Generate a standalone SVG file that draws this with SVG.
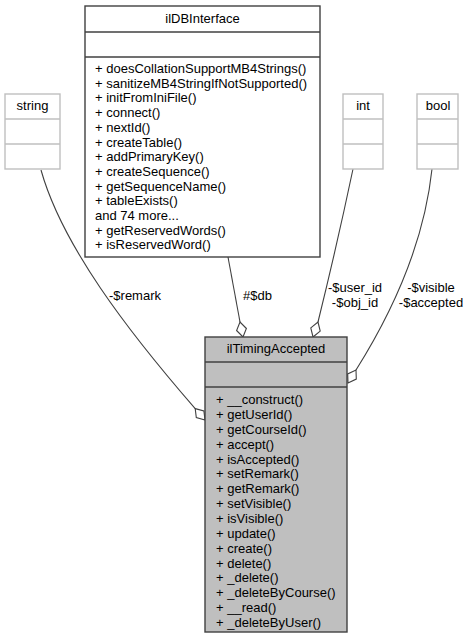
<svg xmlns="http://www.w3.org/2000/svg" width="469" height="639" viewBox="0 0 469 639">
<style>
text{font-family:"Liberation Sans",Arial,sans-serif;font-size:13px;fill:#000}
.t{text-anchor:middle}
.m{text-anchor:middle}
.box{fill:#fff;stroke:#404040;stroke-width:1.4}
.cur{fill:#bfbfbf;stroke:#404040;stroke-width:1.4}
.gbox{fill:#fff;stroke:#bfbfbf;stroke-width:1.4}
.sep{stroke:#404040;stroke-width:1.4}
.gsep{stroke:#bfbfbf;stroke-width:1.4}
.edge{fill:none;stroke:#404040;stroke-width:1.1}
.dia{fill:#fff;stroke:#404040;stroke-width:1.1}
</style>
<rect width="469" height="639" fill="#fff"/>
<g id="connectors">
<g id="e-db">
<path class="edge" d="M228,257 L240,322"/>
<polygon class="dia" points="243,337 246.4,328.5 240,322 236.6,330.5"/>
<text x="243" y="300">#$db</text>
</g>
<g id="e-int">
<path class="edge" d="M353,169 Q337,245 318,322"/>
<polygon class="dia" points="313,337 320.2,331.1 318,322 310.8,327.9"/>
<text class="m" x="355" y="292">-$user_id</text>
<text class="m" x="355" y="307">-$obj_id</text>
</g>
<g id="e-bool">
<path class="edge" d="M432,169 C425,235 400,300 356,370"/>
<polygon class="dia" points="348,383 356.3,379.1 356,370 347.7,373.9"/>
<text class="m" x="431" y="292">-$visible</text>
<text class="m" x="431" y="307">-$accepted</text>
</g>
<g id="e-string">
<path class="edge" d="M41,170 C62,245 127,330 195.2,408.6"/>
<polygon class="dia" points="205,420 203.9,411 195.2,408.6 196.3,417.6"/>
<text x="109" y="300">-$remark</text>
</g>
</g>
<g id="node-string">
<rect class="gbox" x="5" y="94" width="55" height="75"/>
<line class="gsep" x1="5" y1="119" x2="60" y2="119"/>
<line class="gsep" x1="5" y1="144" x2="60" y2="144"/>
<text class="t" x="32.5" y="110">string</text>
</g>
<g id="node-int">
<rect class="gbox" x="343" y="94" width="40" height="75"/>
<line class="gsep" x1="343" y1="119" x2="383" y2="119"/>
<line class="gsep" x1="343" y1="144" x2="383" y2="144"/>
<text class="t" x="363" y="110">int</text>
</g>
<g id="node-bool">
<rect class="gbox" x="417" y="94" width="41" height="75"/>
<line class="gsep" x1="417" y1="119" x2="458" y2="119"/>
<line class="gsep" x1="417" y1="144" x2="458" y2="144"/>
<text class="t" x="438" y="110">bool</text>
</g>
<g id="node-ilDBInterface">
<rect class="box" x="85" y="6" width="235" height="251"/>
<line class="sep" x1="85" y1="32" x2="320" y2="32"/>
<line class="sep" x1="85" y1="57" x2="320" y2="57"/>
<text class="t" x="202.5" y="23">ilDBInterface</text>
<text x="95" y="73">+ doesCollationSupportMB4Strings()</text>
<text x="95" y="87.7">+ sanitizeMB4StringIfNotSupported()</text>
<text x="95" y="102.4">+ initFromIniFile()</text>
<text x="95" y="117.1">+ connect()</text>
<text x="95" y="131.8">+ nextId()</text>
<text x="95" y="146.5">+ createTable()</text>
<text x="95" y="161.2">+ addPrimaryKey()</text>
<text x="95" y="175.9">+ createSequence()</text>
<text x="95" y="190.6">+ getSequenceName()</text>
<text x="95" y="205.3">+ tableExists()</text>
<text x="95" y="220">and 74 more...</text>
<text x="95" y="234.7">+ getReservedWords()</text>
<text x="95" y="249.4">+ isReservedWord()</text>
</g>
<g id="node-ilTimingAccepted">
<rect class="cur" x="205" y="337" width="142" height="295"/>
<line class="sep" x1="205" y1="362" x2="347" y2="362"/>
<line class="sep" x1="205" y1="387" x2="347" y2="387"/>
<text class="t" x="276" y="353">ilTimingAccepted</text>
<text x="216" y="404">+ __construct()</text>
<text x="216" y="418.9">+ getUserId()</text>
<text x="216" y="433.7">+ getCourseId()</text>
<text x="216" y="448.6">+ accept()</text>
<text x="216" y="463.5">+ isAccepted()</text>
<text x="216" y="478.3">+ setRemark()</text>
<text x="216" y="493.2">+ getRemark()</text>
<text x="216" y="508.1">+ setVisible()</text>
<text x="216" y="523">+ isVisible()</text>
<text x="216" y="537.8">+ update()</text>
<text x="216" y="552.7">+ create()</text>
<text x="216" y="567.6">+ delete()</text>
<text x="216" y="582.4">+ _delete()</text>
<text x="216" y="597.3">+ _deleteByCourse()</text>
<text x="216" y="612.2">+ __read()</text>
<text x="216" y="627">+ _deleteByUser()</text>
</g>
</svg>
